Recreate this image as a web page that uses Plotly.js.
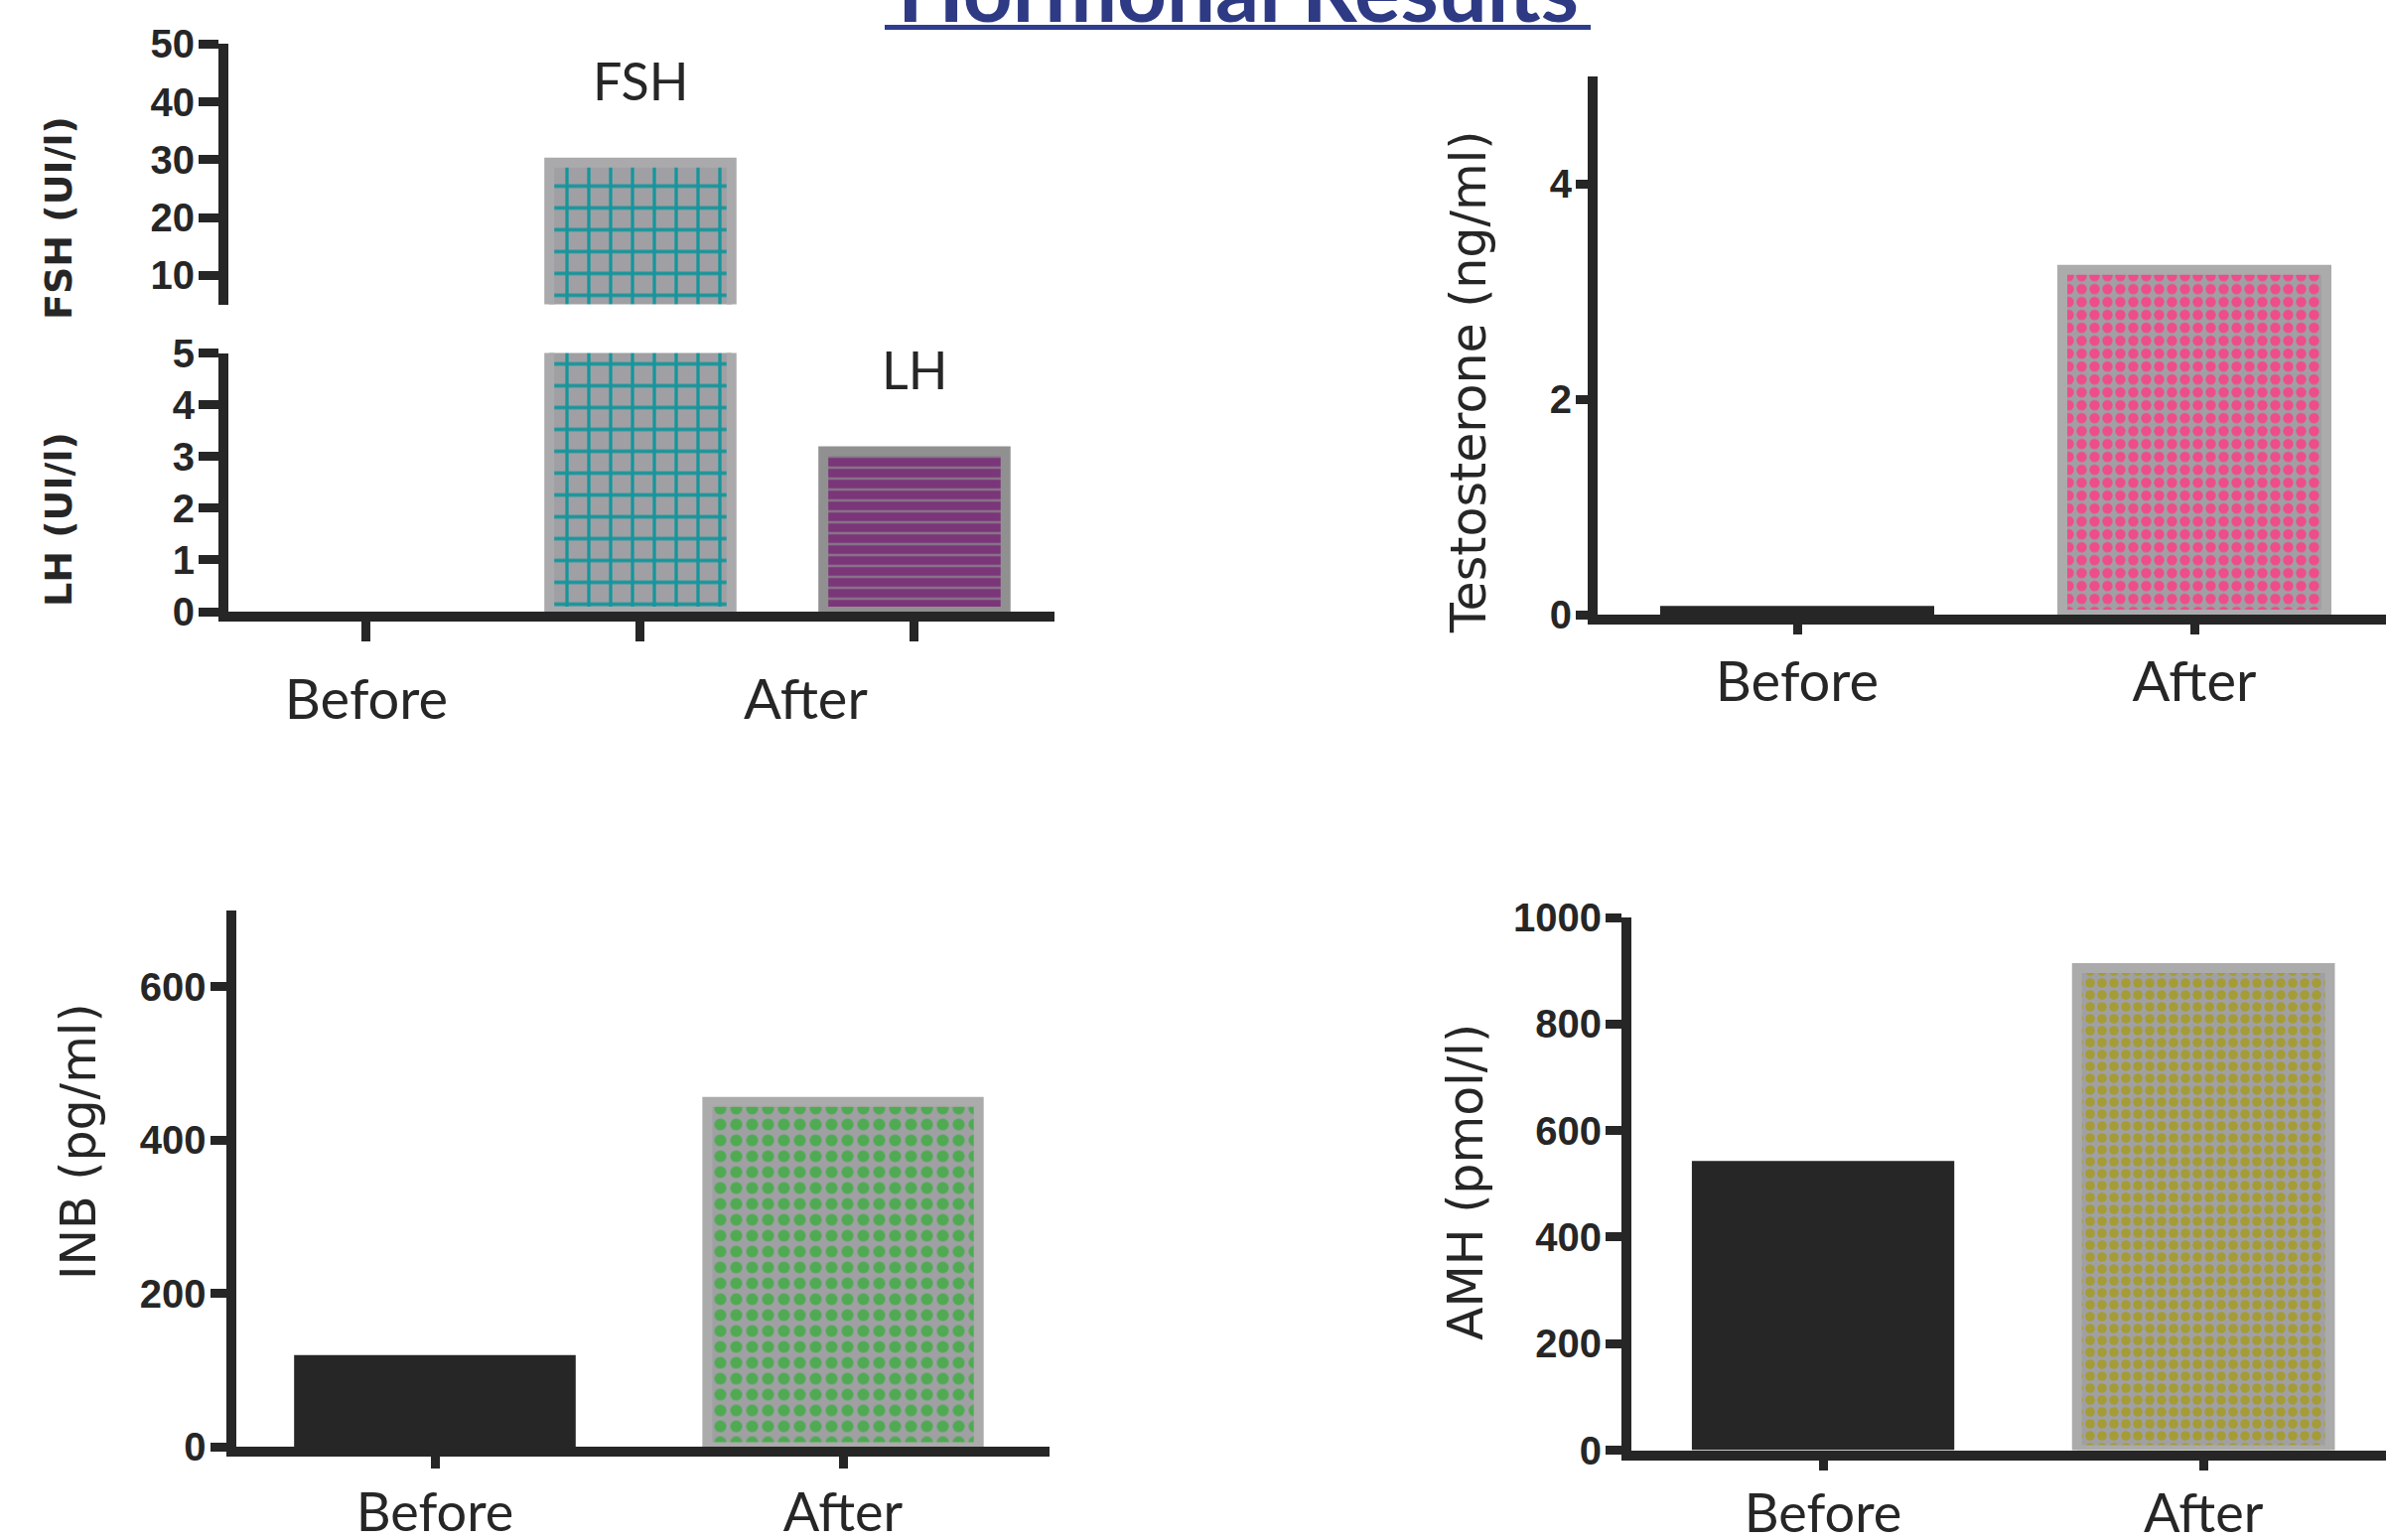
<!DOCTYPE html>
<html><head><meta charset="utf-8">
<script src="https://cdn.plot.ly/plotly-3.0.1.min.js"></script>
<style>html,body{margin:0;padding:0;background:#fff;overflow:hidden}#chart{width:2403px;height:1551px}</style>
</head><body><div id="chart"></div>
<script>
const W = 2403, H = 1551;

// ---- data ----
const categories = ['Before', 'After'];
const topLeftCategories = ['Before', 'After FSH', 'After LH'];
const fshValues = [0, 29.5];          // FSH (UI/l): Before, After
const lhValues = [0, 3.1];            // LH (UI/l): Before, After
const testosteroneValues = [0.08, 3.2];
const inbValues = [120, 450];
const amhValues = [543, 905];
const fshTicks = [10, 20, 30, 40, 50];
const lhTicks = [0, 1, 2, 3, 4, 5];
const testosteroneTicks = [0, 2, 4];
const inbTicks = [0, 200, 400, 600];
const amhTicks = [0, 200, 400, 600, 800, 1000];

// ---- helpers ----
const px = v => v / W;
const py = v => 1 - v / H;
const INK = '#262626';
const GRAY = '#a0a0a4';

function yAxis(top, bottom, range, ticks, len, standoff) {
  return {
    domain: [py(bottom), py(top)], range: range, tickvals: ticks,
    ticks: 'outside', ticklen: len, tickwidth: 9, tickcolor: INK,
    showline: true, linewidth: 10, linecolor: INK,
    showgrid: false, zeroline: false, fixedrange: true,
    ticklabelstandoff: standoff,
    tickfont: {family: 'Liberation Sans', size: 40, color: INK, weight: 'bold'}
  };
}
function xAxis(left, right, range, anchor, len, standoff, size, extra) {
  return Object.assign({
    domain: [px(left), Math.min(1, px(right))], type: 'category', range: range, anchor: anchor,
    ticks: 'outside', ticklen: len, tickwidth: 9, tickcolor: INK,
    showline: true, linewidth: 10, linecolor: INK,
    showgrid: false, zeroline: false, fixedrange: true,
    ticklabelstandoff: standoff,
    tickfont: {family: 'Lato', size: size, color: INK}
  }, extra || {});
}
function blackBar(x, y, xa, ya) {
  return {type: 'bar', x: [x], y: [y], xaxis: xa, yaxis: ya, hoverinfo: 'skip', showlegend: false,
    width: 0.69, marker: {color: INK, line: {width: 0}}};
}
function patternBar(x, y, xa, ya, bg, fg, shape, size, solid, lineColor) {
  return {type: 'bar', x: [x], y: [y], xaxis: xa, yaxis: ya, hoverinfo: 'skip', showlegend: false,
    width: 0.665,
    marker: {color: bg, line: {color: lineColor, width: 10},
      pattern: {shape: shape, bgcolor: bg, fgcolor: fg, size: size, solidity: solid, fillmode: 'replace'}}};
}

const traces = [
  // top-left: FSH (drawn on both parts of the broken axis) and LH
  blackBar(topLeftCategories[0], fshValues[0], 'x', 'y2'),
  patternBar(topLeftCategories[1], fshValues[1], 'x', 'y', GRAY, '#17959b', '+', 22, 0.28, '#aaaaac'),
  patternBar(topLeftCategories[1], fshValues[1], 'x', 'y2', GRAY, '#17959b', '+', 22, 0.28, '#aaaaac'),
  blackBar(topLeftCategories[0], lhValues[0], 'x', 'y2'),
  patternBar(topLeftCategories[2], lhValues[1], 'x', 'y2', '#7a3679', '#8e8e8e', '-', 11, 0.16, '#909090'),
  // top-right: testosterone
  blackBar(categories[0], testosteroneValues[0], 'x3', 'y3'),
  patternBar(categories[1], testosteroneValues[1], 'x3', 'y3', GRAY, '#ee4c8a', '.', 13, 0.5, '#ababab'),
  // bottom-left: INB
  blackBar(categories[0], inbValues[0], 'x4', 'y4'),
  patternBar(categories[1], inbValues[1], 'x4', 'y4', GRAY, '#4faa52', '.', 16, 0.45, '#ababab'),
  // bottom-right: AMH
  blackBar(categories[0], amhValues[0], 'x5', 'y5'),
  patternBar(categories[1], amhValues[1], 'x5', 'y5', GRAY, '#a59c36', '.', 12, 0.5, '#ababab')
];

function rotTitle(text, x, y, size, weight) {
  return {text: text, x: px(x), y: py(y), xref: 'paper', yref: 'paper', textangle: -90, showarrow: false,
    xanchor: 'center', yanchor: 'middle',
    font: {family: 'DejaVu Sans', size: size, color: INK, weight: weight}};
}

const layout = {
  width: W, height: H,
  margin: {l: 0, r: 0, t: 0, b: 0, pad: 0},
  paper_bgcolor: '#ffffff', plot_bgcolor: 'rgba(0,0,0,0)',
  barmode: 'overlay', showlegend: false,
  title: {
    text: '<b>Hormonal Results</b>',
    font: {family: 'Lato', size: 87, color: '#2E3A84'},
    x: 1247 / W, xanchor: 'center', xref: 'paper',
    y: 1 - 22 / H, yanchor: 'bottom', yref: 'container'
  },
  // top-left (broken axis FSH / LH)
  xaxis: xAxis(230, 1062, [-0.5036, 2.511], 'y2', 20, 11, 56, {
    tickvals: topLeftCategories, ticktext: ['Before', '', '']
  }),
  yaxis: Object.assign(yAxis(44.4, 306.5, [5, 50], fshTicks, 20, -4), {anchor: 'x'}),
  yaxis2: Object.assign(yAxis(355.5, 616, [0, 5], lhTicks, 20, -4), {anchor: 'x'}),
  // top-right testosterone
  xaxis3: xAxis(1609, 2403, [-0.5025, 1.4825], 'y3', 10, 0, 56),
  yaxis3: Object.assign(yAxis(76.6, 619, [0, 5], testosteroneTicks, 12, -4), {anchor: 'x3'}),
  // bottom-left INB
  xaxis4: xAxis(237.5, 1057, [-0.4878, 1.506], 'y4', 12, -2, 54),
  yaxis4: Object.assign(yAxis(916.5, 1457.4, [0, 700], inbTicks, 16, -4), {anchor: 'x4'}),
  // bottom-right AMH
  xaxis5: xAxis(1643, 2403, [-0.504, 1.480], 'y5', 10, -2, 54),
  yaxis5: Object.assign(yAxis(924, 1460.5, [0, 1000], amhTicks, 16, -4), {anchor: 'x5'}),
  annotations: [
    rotTitle('FSH (UI/l)', 59, 220, 38, 'bold'),
    rotTitle('LH (UI/l)', 59, 523, 38, 'bold'),
    rotTitle('Testosterone (ng/ml)', 1479, 385, 49, 'normal'),
    rotTitle('INB (pg/ml)', 79, 1150, 49, 'normal'),
    rotTitle('AMH (pmol/l)', 1476, 1190, 49, 'normal'),
    {text: 'FSH', x: 1, y: py(81), xref: 'x', yref: 'paper', showarrow: false, xanchor: 'center', yanchor: 'middle',
      font: {family: 'Lato', size: 52, color: INK}},
    {text: 'LH', x: 2, y: py(372), xref: 'x', yref: 'paper', showarrow: false, xanchor: 'center', yanchor: 'middle',
      font: {family: 'Lato', size: 52, color: INK}},
    {text: 'After', x: 1.605, y: py(702), xref: 'x', yref: 'paper', showarrow: false, xanchor: 'center', yanchor: 'middle',
      font: {family: 'Lato', size: 56, color: INK}}
  ],
  shapes: [
    {type: 'line', xref: 'paper', yref: 'paper', x0: px(891), x1: px(1602), y0: py(27.5), y1: py(27.5),
      line: {color: '#2E3D8F', width: 5}}
  ]
};

Plotly.newPlot('chart', traces, layout, {staticPlot: true, displayModeBar: false});
</script>
</body></html>
